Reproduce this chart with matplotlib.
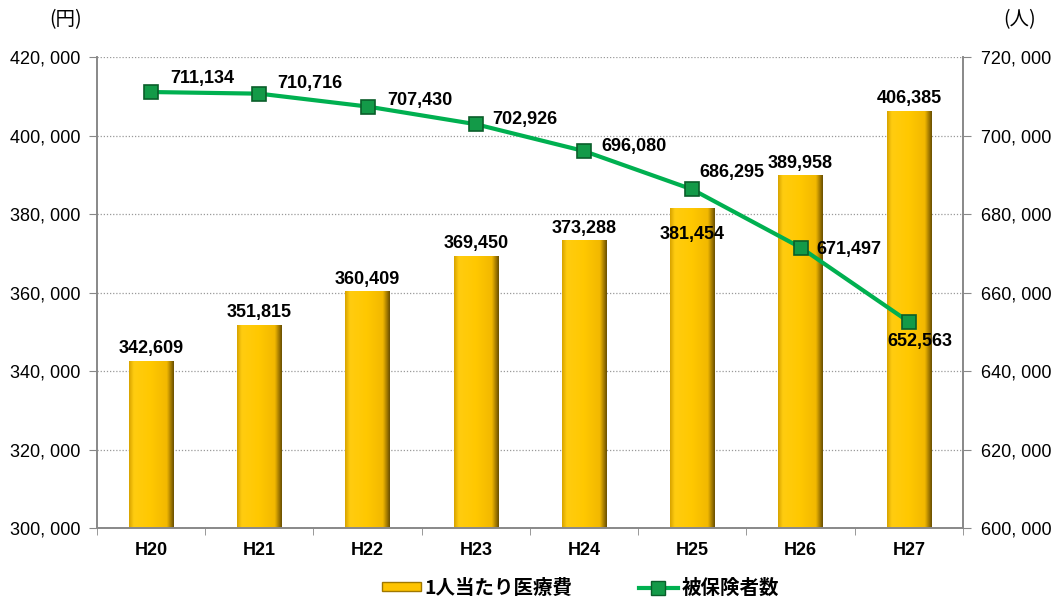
import numpy as np
import matplotlib.pyplot as plt
from matplotlib.colors import LinearSegmentedColormap
from matplotlib.lines import Line2D
from matplotlib.patches import Patch

years = ['H20', 'H21', 'H22', 'H23', 'H24', 'H25', 'H26', 'H27']
cost_per_person = [342609, 351815, 360409, 369450, 373288, 381454, 389958, 406385]
insured = [711134, 710716, 707430, 702926, 696080, 686295, 671497, 652563]

# label offsets in pixels (dx, dy)
bar_label_off = [(0, 12)] * 5 + [(0, -26), (0, 12), (0, 12)]
line_label_off = [(51, 14), (50, 10), (52, 6), (49, 5), (50, 5), (40, 17), (48, -2), (11, -20)]

plt.rcParams['font.family'] = ['Liberation Sans', 'DejaVu Sans']

fig = plt.figure(figsize=(10.59, 6.09), dpi=100)
ax = fig.add_axes([0.0916, 0.133, 0.8177, 0.773])
ax2 = ax.twinx()

x = np.arange(len(years))
bars = ax.bar(x, cost_per_person, width=0.41, color='#FFC400', zorder=2)

# fake bevel shading for the bars
cmap = LinearSegmentedColormap.from_list('gold', [
    (0.0, '#D9A500'), (0.1, '#FFCC10'), (0.5, '#FFC800'),
    (0.85, '#F2B800'), (1.0, '#6E5200')])
grad = np.linspace(0, 1, 64).reshape(1, -1)
for b in bars:
    x0 = b.get_x()
    im = ax.imshow(grad, cmap=cmap, aspect='auto', zorder=2.5,
                   extent=(x0, x0 + b.get_width(), 300000, b.get_height()))
    im.set_clip_path(b)

ax.set_xlim(-0.5, len(years) - 0.5)
ax.set_ylim(300000, 420000)
ax.set_yticks(np.arange(300000, 420001, 20000))
ax.set_yticklabels([f'{v:,}'.replace(',', ', ') for v in range(300000, 420001, 20000)])
ax.set_xticks(x)
ax.set_xticklabels(years, fontsize=13, fontweight='bold')
ax.set_xticks(np.arange(-0.5, len(years), 1), minor=True)
ax.tick_params(axis='x', which='major', length=0, pad=10)
ax.tick_params(axis='x', which='minor', length=5, color='#888888', direction='out')
ax.tick_params(axis='y', labelsize=13, length=6, color='#888888', pad=6)
ax.grid(axis='y', linestyle=(0, (1, 1.5)), color='#999999', linewidth=0.9, zorder=0)
ax.set_axisbelow(True)

for i, v in enumerate(cost_per_person):
    dx, dy = bar_label_off[i]
    ax.annotate(f'{v:,}', (x[i], v), xytext=(dx, dy), textcoords='offset pixels',
                ha='center', va='center', fontsize=13, fontweight='bold', zorder=5)

ax2.plot(x, insured, color='#00B050', linewidth=3, marker='s', markersize=10.5,
         markerfacecolor='#139A48', markeredgecolor='#0A5E2A', markeredgewidth=1.2, zorder=4)
ax2.set_ylim(600000, 720000)
ax2.set_yticks(np.arange(600000, 720001, 20000))
ax2.set_yticklabels([f'{v:,}'.replace(',', ', ') for v in range(600000, 720001, 20000)])
ax2.tick_params(axis='y', labelsize=13, length=6, color='#888888', pad=7)

for i, v in enumerate(insured):
    dx, dy = line_label_off[i]
    ax2.annotate(f'{v:,}', (x[i], v), xytext=(dx, dy), textcoords='offset pixels',
                 ha='center', va='center', fontsize=13, fontweight='bold', zorder=6)

for a in (ax, ax2):
    a.spines['top'].set_visible(False)
    for s in ('left', 'right', 'bottom'):
        a.spines[s].set_color('#888888')
        a.spines[s].set_linewidth(1.2)

fig.text(0.062, 0.968, '(円)', fontsize=14, ha='center', va='center',
         family=['Noto Sans CJK JP', 'DejaVu Sans'])
fig.text(0.963, 0.968, '(人)', fontsize=14, ha='center', va='center',
         family=['Noto Sans CJK JP', 'DejaVu Sans'])

handles = [Patch(facecolor='#FFC400', edgecolor='#A07800'),
           Line2D([0], [0], color='#00B050', linewidth=3, marker='s', markersize=10,
                  markerfacecolor='#139A48', markeredgecolor='#0A5E2A')]
leg = fig.legend(handles, ['1人当たり医療費', '被保険者数'], loc='lower center',
                 bbox_to_anchor=(0.548, -0.01), ncol=2, frameon=False, columnspacing=3.4,
                 handlelength=2.0, handleheight=0.3, handletextpad=0.2,
                 prop={'family': ['Noto Sans CJK JP', 'DejaVu Sans'], 'size': 14, 'weight': 'bold'})

fig.savefig('out.png', dpi=100)
